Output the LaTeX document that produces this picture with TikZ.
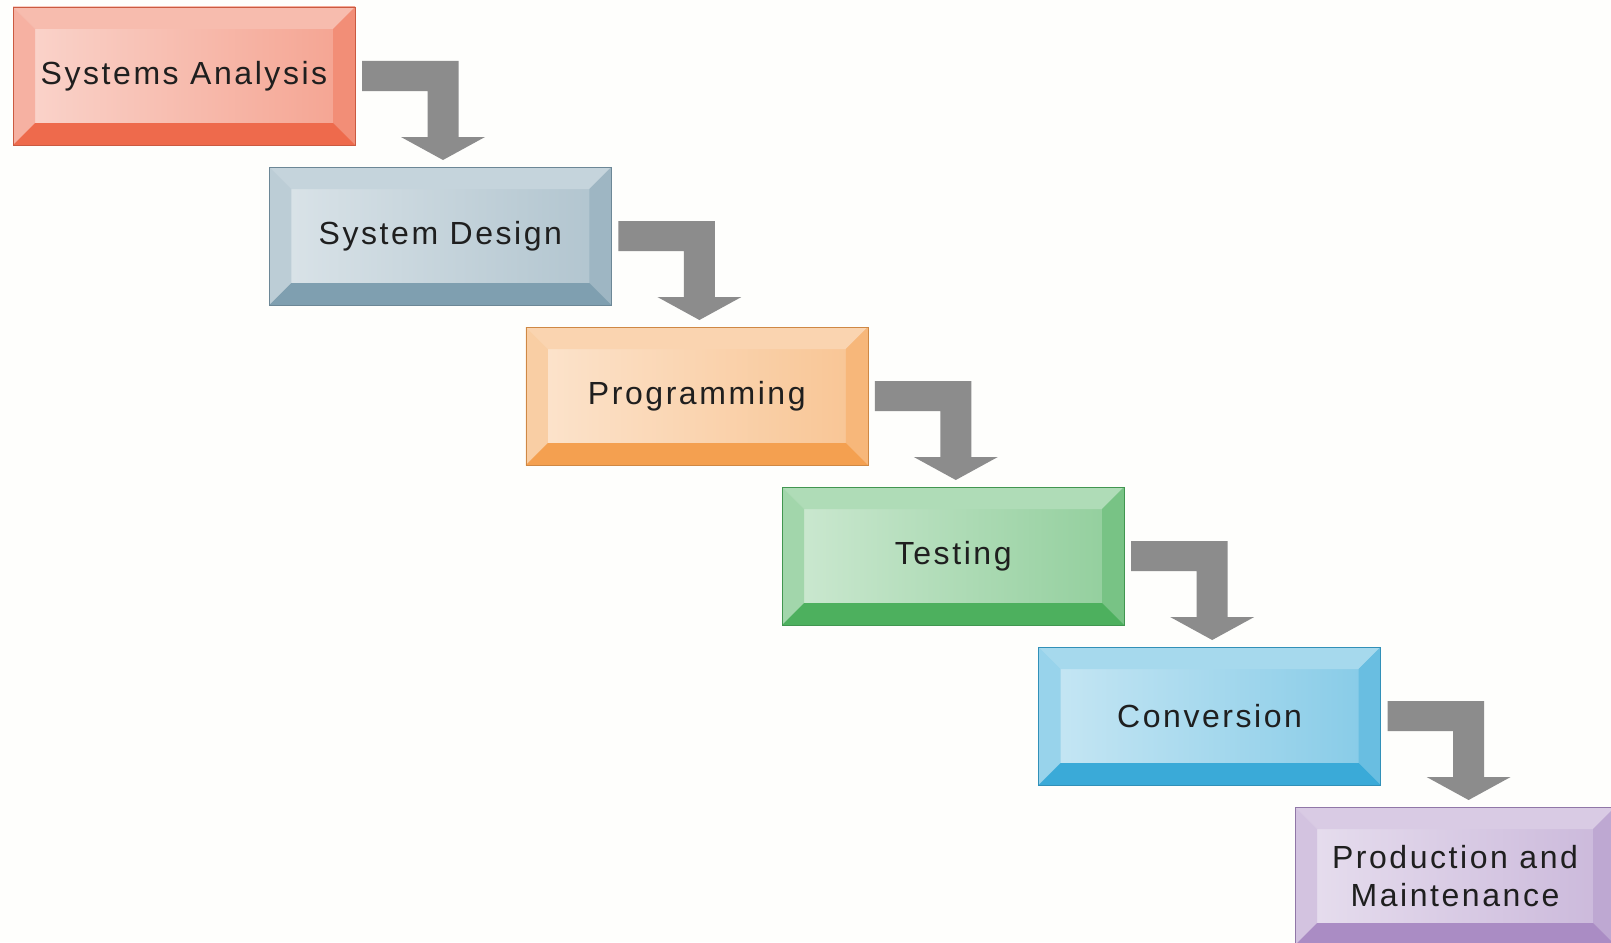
\documentclass[tikz,border=0pt]{standalone}
\usepackage{fontspec}
\setmainfont{Liberation Sans}[LetterSpace=8]
\usetikzlibrary{calc,positioning}
\newdimen\hdim
\newdimen\wdim
\newdimen\bdim
\hdim=138pt
\wdim=342pt
\bdim=22pt
\definecolor{sacolor}{HTML}{EE6A4C}
\definecolor{sdcolor}{HTML}{7F9FB0}
\definecolor{prcolor}{HTML}{F4A050}
\definecolor{tecolor}{HTML}{4DB05E}
\definecolor{cocolor}{HTML}{3AAAD8}
\definecolor{pmcolor}{HTML}{AA8CC4}
\definecolor{arrowgray}{HTML}{8C8C8C}
\definecolor{paper}{HTML}{FEFEFC}
\tikzset{
  phase/.style={
    rectangle,
    draw=#1!85!black,
    font={\fontsize{32pt}{38pt}\selectfont},
    text=black!88,
    inner sep=0pt,
    outer sep=0pt,
    minimum height=\hdim,
    minimum width=\wdim,
    text centered,
    left color=#1!28!white,
    right color=#1!62!white,
    path picture={
      \coordinate (bsw) at (path picture bounding box.south west);
      \coordinate (bne) at (path picture bounding box.north east);
      \coordinate (bnw) at (bsw|-bne);
      \coordinate (bse) at (bne|-bsw);
      \fill[#1!45!white] (bnw) -- (bne) -- ($(bne)+(-\bdim,-\bdim)$)
        -- ($(bnw)+(\bdim,-\bdim)$) -- cycle;
      \fill[#1!52!white] (bnw) -- ($(bnw)+(\bdim,-\bdim)$)
        -- ($(bsw)+(\bdim,\bdim)$) -- (bsw) -- cycle;
      \fill[#1!76!white] (bne) -- (bse) -- ($(bse)+(-\bdim,\bdim)$)
        -- ($(bne)+(-\bdim,-\bdim)$) -- cycle;
      \fill[#1] (bsw) -- (bse) -- ($(bse)+(-\bdim,\bdim)$)
        -- ($(bsw)+(\bdim,\bdim)$) -- cycle;
    },
  },
}
\tikzstyle{arrow}=[
  fill=arrowgray,
]
% elbow arrow from one phase down to the next
\newcommand\phasearrow[2]{%
  \coordinate (s) at ($(#1.east)+(7pt,0)$);
  \coordinate (u) at ($(s)+(81pt,0)$);
  \coordinate (v) at ($(#2.north)+(0,7pt)$);
  \coordinate (t) at (u|-v);
  \fill [arrow] ($(s)+(0,15pt)$) -- ($(t|-s)+(15.5pt,15pt)$)
    -- ($(t)+(15.5pt,23pt)$) -- ($(t)+(42pt,23pt)$) -- (t)
    -- ($(t)+(-42pt,23pt)$) -- ($(t)+(-15.5pt,23pt)$)
    -- ($(t|-s)+(-15.5pt,-15pt)$) -- ($(s)+(0,-15pt)$) -- cycle;
}

\begin{document}
\begin{tikzpicture}
  \clip (0,0) rectangle (1611pt,-942pt);
  \fill [paper] (0,0) rectangle (1611pt,-942pt);
  %%
  \node (sa) [phase=sacolor, anchor=north west] at (13pt,-7pt) {Systems Analysis};
  \node (sd) [phase=sdcolor, below right=22pt and -85.6pt of sa] {System Design};
  \node (pr) [phase=prcolor, below right=22pt and -85.6pt of sd] {Programming};
  \node (te) [phase=tecolor, below right=22pt and -85.6pt of pr] {Testing};
  \node (co) [phase=cocolor, below right=22pt and -85.6pt of te] {Conversion};
  \node (pm) [phase=pmcolor, minimum width=320pt, align=center,
    below right=22pt and -85.6pt of co] {Production and\\Maintenance};
  %%
  \phasearrow{sa}{sd}
  \phasearrow{sd}{pr}
  \phasearrow{pr}{te}
  \phasearrow{te}{co}
  \phasearrow{co}{pm}
\end{tikzpicture}
\end{document}
